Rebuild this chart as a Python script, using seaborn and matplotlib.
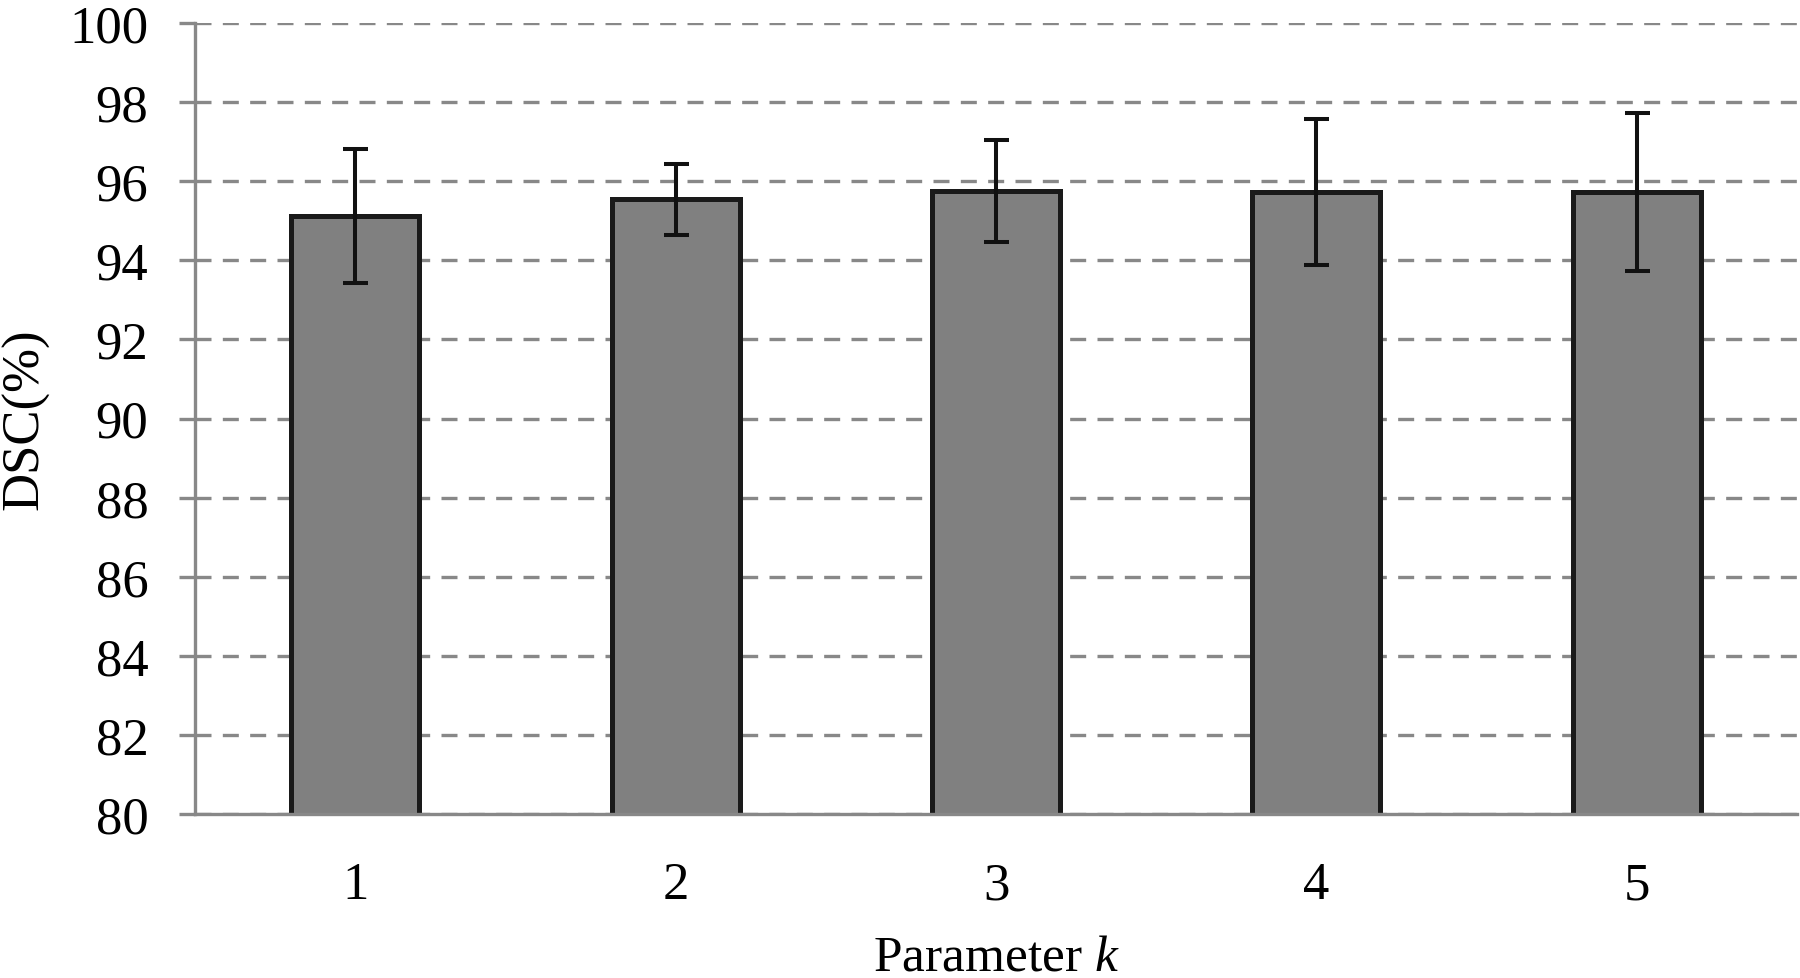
import matplotlib
matplotlib.use("Agg")
import matplotlib.pyplot as plt
import seaborn as sns
import pandas as pd

# Data
categories = ["1", "2", "3", "4", "5"]
dsc_mean = [95.12, 95.54, 95.75, 95.73, 95.73]
dsc_err = [1.69, 0.90, 1.29, 1.84, 1.99]
y_ticks = [80, 82, 84, 86, 88, 90, 92, 94, 96, 98, 100]

sns.set_theme(style="white")
plt.rcParams['font.family'] = ['Liberation Serif', 'DejaVu Serif']
plt.rcParams['mathtext.fontset'] = 'custom'
plt.rcParams['mathtext.rm'] = 'Liberation Serif'
plt.rcParams['mathtext.it'] = 'Liberation Serif:italic'

df = pd.DataFrame({"k": categories, "dsc": dsc_mean})

fig = plt.figure(figsize=(18, 9.79), dpi=100)
ax = fig.add_axes([195/1800, 1 - 815/979, (1797 - 195)/1800, (815 - 24)/979])

grid_color = "#888888"
ax.set_axisbelow(True)
ax.yaxis.grid(True, color=grid_color, linewidth=2.4, linestyle=(0, (4.8, 3.4)))
ax.xaxis.grid(False)

sns.barplot(data=df, x="k", y="dsc", color="#808080", saturation=1,
            edgecolor="#1a1a1a", linewidth=3.6, width=0.4, ax=ax, zorder=2)

ax.errorbar(x=list(range(len(categories))), y=dsc_mean, yerr=dsc_err, fmt="none",
            ecolor="#111111", elinewidth=2.9, capsize=9, capthick=2.9, zorder=4)

ax.set_ylim(80, 100)
ax.set_xlim(-0.5, len(categories) - 0.5)
ax.set_yticks(y_ticks)
ax.set_yticklabels([str(t) for t in y_ticks])

for side in ["top", "right"]:
    ax.spines[side].set_visible(False)
for side in ["left", "bottom"]:
    ax.spines[side].set_color(grid_color)
    ax.spines[side].set_linewidth(2.4)
ax.spines["bottom"].set_zorder(3)

ax.tick_params(axis="y", which="major", direction="out", length=11.5, width=2.4,
               color=grid_color, labelsize=38, pad=22, left=True, labelcolor="black")
ax.tick_params(axis="x", which="major", length=0, labelsize=38, pad=34, labelcolor="black")

ax.set_xlabel("Parameter $k$", fontsize=37, labelpad=18, color="black")
ax.set_ylabel("DSC(%)", fontsize=38, labelpad=14, color="black")

fig.savefig("out.png", dpi=100, facecolor="white")
